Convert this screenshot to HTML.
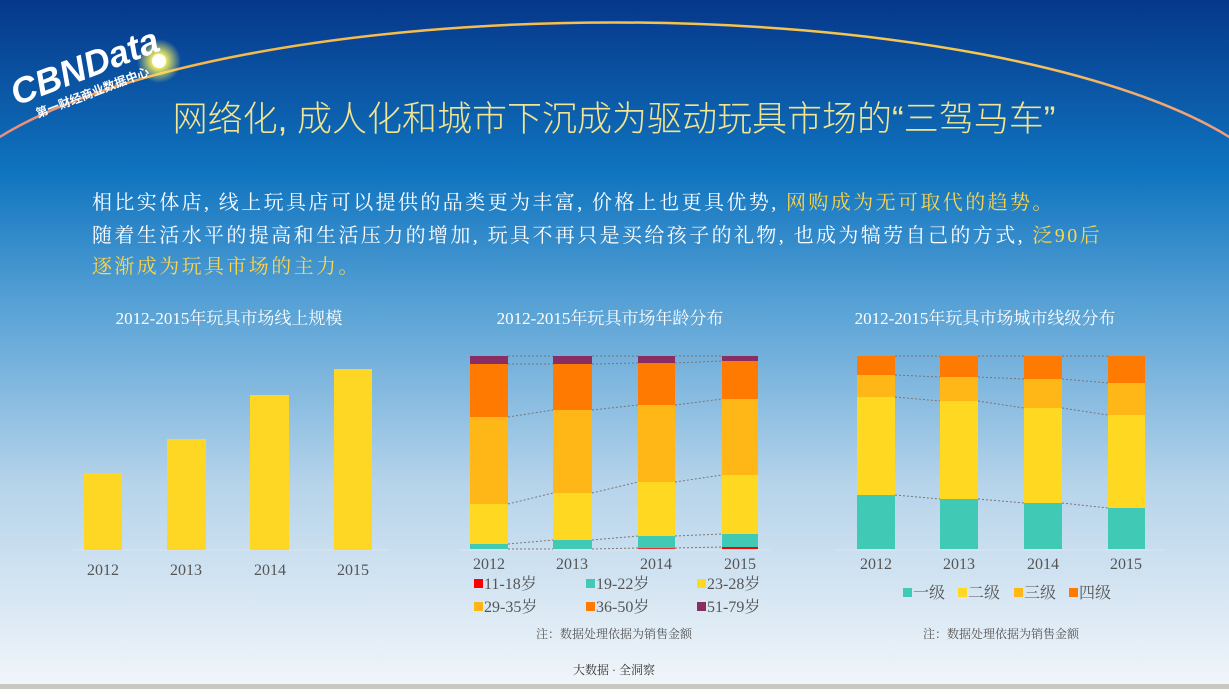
<!DOCTYPE html>
<html><head><meta charset="utf-8"><style>
body{margin:0;width:1229px;height:689px;overflow:hidden;font-family:"Liberation Serif","Noto Serif CJK SC",serif}
svg text{font-family:"Liberation Serif","Noto Serif CJK SC",serif}
.s{font-family:"Liberation Sans","Noto Sans CJK SC",sans-serif}
</style></head><body>
<svg width="1229" height="689" xmlns="http://www.w3.org/2000/svg">
<defs>
<linearGradient id="bg" x1="0" y1="0" x2="0" y2="1">
<stop offset="0" stop-color="#06378a"/>
<stop offset="0.25" stop-color="#0f74bf"/>
<stop offset="0.45" stop-color="#5aa3d6"/>
<stop offset="0.7" stop-color="#b5d3ea"/>
<stop offset="1" stop-color="#f2f6fa"/>
</linearGradient>
<linearGradient id="arc" x1="0" x2="1"><stop offset="0" stop-color="#f08a80"/><stop offset="0.15" stop-color="#f6b84a"/><stop offset="0.8" stop-color="#f6c850"/><stop offset="1" stop-color="#f29a80"/></linearGradient>
<radialGradient id="glow"><stop offset="0.3" stop-color="#f4ee60"/><stop offset="1" stop-color="#f4ee60" stop-opacity="0"/></radialGradient>
</defs>
<rect width="1229" height="689" fill="url(#bg)"/>
<rect y="684" width="1229" height="5" fill="#c8c8c0"/>
<path d="M -5 140 A 680 200 0 0 1 1234 140" fill="none" stroke="url(#arc)" stroke-width="2.5"/>
<circle cx="159" cy="61" r="22" fill="url(#glow)"/>
<circle cx="159" cy="61" r="7" fill="#fff"/>
<g transform="rotate(-21 80 60)">
<text x="4" y="80" class="s" font-size="36" font-weight="bold" fill="#fff" font-style="italic" style="font-family:'Liberation Sans',sans-serif">CBNData</text>
<text x="20" y="99" class="s" font-size="12" font-weight="bold" fill="#fff">第一财经商业数据中心</text>
</g>
<text x="614" y="131" text-anchor="middle" font-size="35" fill="#f3e48f" class="s" style="font-weight:300">网络化, 成人化和城市下沉成为驱动玩具市场的“三驾马车”</text>
<g class="s" font-size="20" fill="#fff" style="letter-spacing:2.4px">
<text x="92" y="209">相比实体店, 线上玩具店可以提供的品类更为丰富, 价格上也更具优势, <tspan fill="#ffd54a">网购成为无可取代的趋势。</tspan></text>
<text x="92" y="242">随着生活水平的提高和生活压力的增加, 玩具不再只是买给孩子的礼物, 也成为犒劳自己的方式, <tspan fill="#ffd54a">泛90后</tspan></text>
<text x="92" y="273" fill="#ffd54a">逐渐成为玩具市场的主力。</text>
</g>
<g font-size="17" fill="#fff" text-anchor="middle">
<text x="229" y="324">2012-2015年玩具市场线上规模</text>
<text x="610" y="324">2012-2015年玩具市场年龄分布</text>
<text x="985" y="324">2012-2015年玩具市场城市线级分布</text>
</g>
<line x1="72" y1="550" x2="390" y2="550" stroke="#dde6ee" stroke-width="1"/>
<g fill="#fdd724">
<rect x="84" y="473" width="38" height="77"/><rect x="167" y="439" width="39" height="111"/>
<rect x="250" y="395" width="39" height="155"/><rect x="334" y="369" width="38" height="181"/>
</g>
<g font-size="16" fill="#555" text-anchor="middle">
<text x="103" y="575">2012</text><text x="186" y="575">2013</text><text x="270" y="575">2014</text><text x="353" y="575">2015</text>
</g>
<line x1="458" y1="550" x2="770" y2="550" stroke="#dde6ee"/>
<g stroke="#777" stroke-dasharray="2,2" stroke-width="1">
<path d="M508 356 L553 356 M592 356 L638 356 M675 356 L722 356"/>
<path d="M508 364 L553 364 M592 364 L638 363 M675 363 L722 361"/>
<path d="M508 417 L553 410 M592 410 L638 405 M675 405 L722 399"/>
<path d="M508 504 L553 493 M592 493 L638 482 M675 482 L722 475"/>
<path d="M508 544 L553 540 M592 540 L638 536 M675 536 L722 534"/>
<path d="M508 549 L553 549 M592 549 L638 548 M675 548 L722 547"/>
</g>
<g>
<rect x="470" y="356" width="38" height="8" fill="#8a2d64"/><rect x="470" y="364" width="38" height="53" fill="#ff7a00"/><rect x="470" y="417" width="38" height="87" fill="#ffb718"/><rect x="470" y="504" width="38" height="40" fill="#ffd821"/><rect x="470" y="544" width="38" height="5" fill="#40c9b4"/>
<rect x="553" y="356" width="39" height="8" fill="#8a2d64"/><rect x="553" y="364" width="39" height="46" fill="#ff7a00"/><rect x="553" y="410" width="39" height="83" fill="#ffb718"/><rect x="553" y="493" width="39" height="47" fill="#ffd821"/><rect x="553" y="540" width="39" height="9" fill="#40c9b4"/>
<rect x="638" y="356" width="37" height="7" fill="#8a2d64"/><rect x="638" y="363" width="37" height="42" fill="#ff7a00"/><rect x="638" y="405" width="37" height="77" fill="#ffb718"/><rect x="638" y="482" width="37" height="54" fill="#ffd821"/><rect x="638" y="536" width="37" height="12" fill="#40c9b4"/><rect x="638" y="548" width="37" height="1" fill="#f03030"/>
<rect x="722" y="356" width="36" height="5" fill="#8a2d64"/><rect x="722" y="361" width="36" height="38" fill="#ff7a00"/><rect x="722" y="399" width="36" height="76" fill="#ffb718"/><rect x="722" y="475" width="36" height="59" fill="#ffd821"/><rect x="722" y="534" width="36" height="13" fill="#40c9b4"/><rect x="722" y="547" width="36" height="2" fill="#f00"/>
</g>
<g font-size="16" fill="#555" text-anchor="middle">
<text x="489" y="569">2012</text><text x="572" y="569">2013</text><text x="656" y="569">2014</text><text x="740" y="569">2015</text>
</g>
<g font-size="16" fill="#555">
<rect x="474" y="579" width="9" height="9" fill="#f00"/><text x="484" y="589">11-18岁</text>
<rect x="586" y="579" width="9" height="9" fill="#40c9b4"/><text x="596" y="589">19-22岁</text>
<rect x="697" y="579" width="9" height="9" fill="#ffd821"/><text x="707" y="589">23-28岁</text>
<rect x="474" y="602" width="9" height="9" fill="#ffb718"/><text x="484" y="612">29-35岁</text>
<rect x="586" y="602" width="9" height="9" fill="#ff7a00"/><text x="596" y="612">36-50岁</text>
<rect x="697" y="602" width="9" height="9" fill="#8a2d64"/><text x="707" y="612">51-79岁</text>
</g>
<text x="614" y="638" font-size="12" fill="#555" text-anchor="middle">注：数据处理依据为销售金额</text>
<text x="614" y="674" font-size="12" fill="#333" text-anchor="middle">大数据 · 全洞察</text>
<line x1="836" y1="550" x2="1165" y2="550" stroke="#dde6ee"/>
<g stroke="#777" stroke-dasharray="2,2">
<path d="M895 356 L940 356 M978 356 L1024 356 M1062 356 L1108 356"/>
<path d="M895 375 L940 377 M978 377 L1024 379 M1062 379 L1108 383"/>
<path d="M895 397 L940 401 M978 401 L1024 408 M1062 408 L1108 415"/>
<path d="M895 495 L940 499 M978 499 L1024 503 M1062 503 L1108 508"/>
</g>
<g>
<rect x="857" y="356" width="38" height="19" fill="#ff7a00"/><rect x="857" y="375" width="38" height="22" fill="#ffb718"/><rect x="857" y="397" width="38" height="98" fill="#ffd821"/><rect x="857" y="495" width="38" height="54" fill="#40c9b4"/>
<rect x="940" y="356" width="38" height="21" fill="#ff7a00"/><rect x="940" y="377" width="38" height="24" fill="#ffb718"/><rect x="940" y="401" width="38" height="98" fill="#ffd821"/><rect x="940" y="499" width="38" height="50" fill="#40c9b4"/>
<rect x="1024" y="356" width="38" height="23" fill="#ff7a00"/><rect x="1024" y="379" width="38" height="29" fill="#ffb718"/><rect x="1024" y="408" width="38" height="95" fill="#ffd821"/><rect x="1024" y="503" width="38" height="46" fill="#40c9b4"/>
<rect x="1108" y="356" width="37" height="27" fill="#ff7a00"/><rect x="1108" y="383" width="37" height="32" fill="#ffb718"/><rect x="1108" y="415" width="37" height="93" fill="#ffd821"/><rect x="1108" y="508" width="37" height="41" fill="#40c9b4"/>
</g>
<g font-size="16" fill="#555" text-anchor="middle">
<text x="876" y="569">2012</text><text x="959" y="569">2013</text><text x="1043" y="569">2014</text><text x="1126" y="569">2015</text>
</g>
<g font-size="16" fill="#555">
<rect x="903" y="588" width="9" height="9" fill="#40c9b4"/><text x="913" y="598">一级</text>
<rect x="958" y="588" width="9" height="9" fill="#ffd821"/><text x="968" y="598">二级</text>
<rect x="1014" y="588" width="9" height="9" fill="#ffb718"/><text x="1024" y="598">三级</text>
<rect x="1069" y="588" width="9" height="9" fill="#ff7a00"/><text x="1079" y="598">四级</text>
</g>
<text x="1001" y="638" font-size="12" fill="#555" text-anchor="middle">注：数据处理依据为销售金额</text>
</svg>
</body></html>
